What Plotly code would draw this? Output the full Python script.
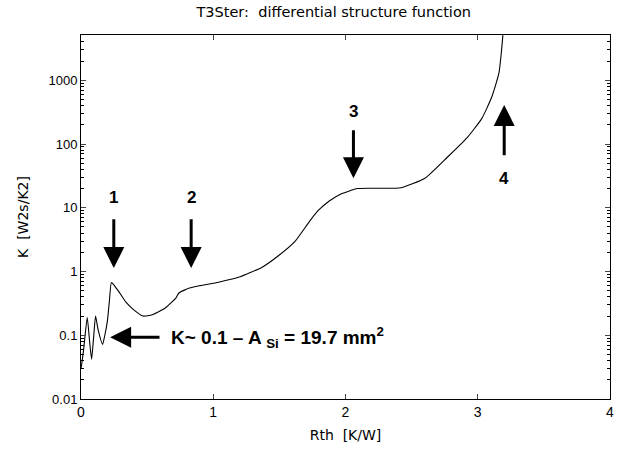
import plotly.graph_objects as go
import math

# Rth [K/W]
rth = [0.0, 0.005, 0.02, 0.047, 0.065, 0.08, 0.095, 0.11, 0.13, 0.163, 0.18, 0.2, 0.215, 0.23,
       0.255, 0.29, 0.34, 0.39, 0.47, 0.54, 0.64, 0.72, 0.74, 0.82, 0.9, 1.04, 1.19, 1.37,
       1.49, 1.62, 1.72, 1.79, 1.88, 1.97, 2.09, 2.25, 2.42, 2.6, 2.77, 2.92, 3.03, 3.105,
       3.16, 3.18, 3.19]
# K [W2s/K2]
kval = [0.03, 0.035, 0.06, 0.19, 0.08, 0.042, 0.09, 0.2, 0.12, 0.072, 0.1, 0.17, 0.35, 0.67,
        0.59, 0.47, 0.33, 0.26, 0.2, 0.21, 0.27, 0.39, 0.46, 0.55, 0.6, 0.68, 0.81, 1.17,
        1.75, 3.0, 5.8, 8.9, 12.9, 16.6, 20.0, 20.2, 20.6, 29, 62, 126, 250, 540,
        1290, 2950, 5100]

x_ticks = [0, 1, 2, 3, 4]
y_ticks = [0.01, 0.1, 1, 10, 100, 1000]
y_tick_text = ["0.01", "0.1", "1", "10", "100", "1000"]

# annotation arrows: (label, x, tail K, tip K, label K)
arrows = [("1", 0.248, 7.0, 1.13, 14.4),
          ("2", 0.833, 7.0, 1.13, 14.4),
          ("3", 2.06, 174, 29, 324),
          ("4", 3.2, 63, 410, 29)]

wide = "DejaVu Sans, Verdana, sans-serif"
tickfont = "Liberation Sans, Arial, sans-serif"

fig = go.Figure()
fig.add_trace(go.Scatter(x=rth, y=kval, mode="lines",
                         line=dict(color="black", width=1.1, shape="spline", smoothing=0.5),
                         showlegend=False))

for lab, xa, tail, tip, ly in arrows:
    fig.add_annotation(x=xa, y=math.log10(tip), ax=xa, ay=math.log10(tail),
                       xref="x", yref="y", axref="x", ayref="y", text="",
                       showarrow=True, arrowhead=2, arrowsize=1.4, arrowwidth=3,
                       arrowcolor="black", standoff=0, startstandoff=0)
    fig.add_annotation(x=xa, y=math.log10(ly), xref="x", yref="y", text="<b>%s</b>" % lab,
                       showarrow=False, font=dict(family="Liberation Sans, Arial", size=17,
                                                  color="black"))

fig.add_annotation(x=0.22, y=math.log10(0.093), ax=0.605, ay=math.log10(0.093),
                   xref="x", yref="y", axref="x", ayref="y", text="",
                   showarrow=True, arrowhead=2, arrowsize=1.4, arrowwidth=3,
                   arrowcolor="black", standoff=0, startstandoff=0)
fig.add_annotation(x=0.665, y=math.log10(0.093), xref="x", yref="y", xanchor="left",
                   text="<b>K~ 0.1 – A <sub>Si</sub> = 19.7 mm<sup>2</sup></b>",
                   showarrow=False,
                   font=dict(family="Liberation Sans, Arial", size=19, color="black"))

fig.update_layout(
    width=618, height=449,
    margin=dict(l=81, r=4, t=35, b=50),
    paper_bgcolor="white", plot_bgcolor="white",
    title=dict(text="T3Ster:  differential structure function", x=0.54, xanchor="center",
               y=0.973, yanchor="middle", font=dict(family=wide, size=14.5, color="black")),
    font=dict(family=tickfont, size=13, color="black"),
)
fig.update_xaxes(range=[0, 4], tickvals=x_ticks, ticks="inside", ticklen=5,
                 tickfont=dict(family=tickfont, size=14), ticklabeloverflow="allow",
                 showline=True, linecolor="black", linewidth=1, mirror="ticks",
                 showgrid=False, zeroline=False,
                 title=dict(text="Rth  [K/W]", standoff=11, font=dict(family=wide, size=14)))
fig.update_yaxes(type="log", range=[-2, 3.71], tickvals=y_ticks, ticktext=y_tick_text,
                 ticks="inside", ticklen=5, tickfont=dict(family=tickfont, size=13),
                 minor=dict(ticks="inside", ticklen=3, tickcolor="black",
                            tickvals=[v * m for v in [0.01, 0.1, 1, 10, 100, 1000]
                                      for m in [2, 3, 4, 5, 6, 7, 8, 9]]),
                 showline=True, linecolor="black", linewidth=1, mirror="ticks",
                 showgrid=False, zeroline=False,
                 title=dict(text="K  [W2s/K2]", standoff=16, font=dict(family=wide, size=14)))

fig.write_html("out.html")
